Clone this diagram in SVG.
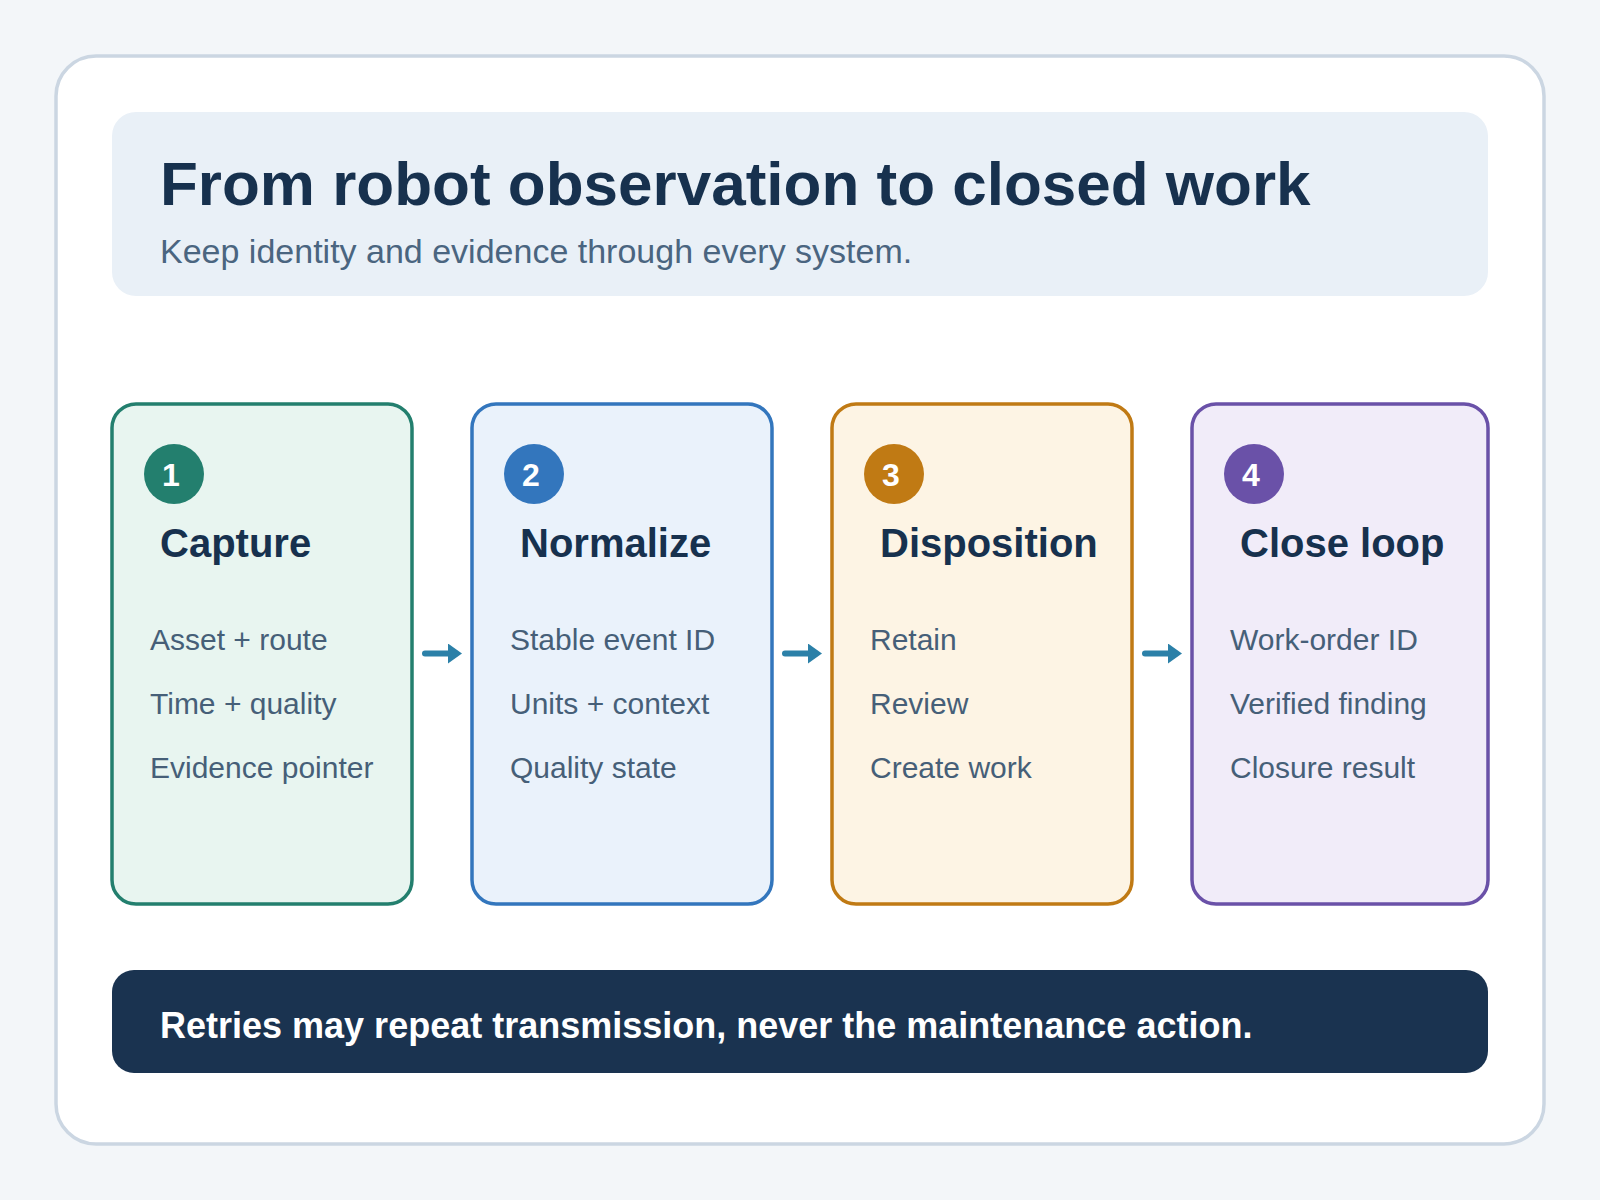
<svg xmlns="http://www.w3.org/2000/svg" width="1600" height="1200" viewBox="0 0 1600 1200">
  <defs>
    <style>
      .sans { font-family: "Liberation Sans", Arial, sans-serif; }
      .title { font-size: 62px; font-weight: bold; fill: #17314e; }
      .subtitle { font-size: 34px; fill: #4a6580; }
      .card { stroke-width: 3.5; }
      .num { font-size: 32px; font-weight: bold; fill: #ffffff; text-anchor: middle; }
      .ctitle { font-size: 40px; font-weight: bold; fill: #17314e; }
      .item { font-size: 30px; fill: #465f78; }
      .banner { font-size: 36px; font-weight: bold; fill: #ffffff; }
      .conn { stroke: #2b80a8; stroke-width: 6; stroke-linecap: round; fill: none; }
    </style>
    <marker id="arrow" viewBox="0 0 14 20" refX="2" refY="10" markerWidth="14" markerHeight="20" markerUnits="userSpaceOnUse" orient="auto">
      <path d="M0,0 L14,10 L0,20 z" fill="#2b80a8"/>
    </marker>
  </defs>

  <rect x="0" y="0" width="1600" height="1200" fill="#f3f6f9"/>
  <rect x="56" y="56" width="1488" height="1088" rx="40" ry="40" fill="#ffffff" stroke="#cbd6e2" stroke-width="3.5"/>

  <g id="header">
    <rect x="112" y="112" width="1376" height="184" rx="24" ry="24" fill="#e9f0f7"/>
    <text class="sans title" x="160" y="205">From robot observation to closed work</text>
    <text class="sans subtitle" x="160" y="263">Keep identity and evidence through every system.</text>
  </g>

  <g id="node-capture">
    <rect class="card" x="112" y="404" width="300" height="500" rx="24" ry="24" fill="#e8f5f0" stroke="#237f6e"/>
    <circle cx="174" cy="474" r="30" fill="#237f6e"/>
    <text class="sans num" x="171" y="486">1</text>
    <text class="sans ctitle" x="160" y="557">Capture</text>
    <text class="sans item" x="150" y="650">Asset + route</text>
    <text class="sans item" x="150" y="714">Time + quality</text>
    <text class="sans item" x="150" y="778">Evidence pointer</text>
  </g>

  <g id="node-normalize">
    <rect class="card" x="472" y="404" width="300" height="500" rx="24" ry="24" fill="#eaf2fb" stroke="#3376bd"/>
    <circle cx="534" cy="474" r="30" fill="#3376bd"/>
    <text class="sans num" x="531" y="486">2</text>
    <text class="sans ctitle" x="520" y="557">Normalize</text>
    <text class="sans item" x="510" y="650">Stable event ID</text>
    <text class="sans item" x="510" y="714">Units + context</text>
    <text class="sans item" x="510" y="778">Quality state</text>
  </g>

  <g id="node-disposition">
    <rect class="card" x="832" y="404" width="300" height="500" rx="24" ry="24" fill="#fdf4e4" stroke="#c07a14"/>
    <circle cx="894" cy="474" r="30" fill="#c07a14"/>
    <text class="sans num" x="891" y="486">3</text>
    <text class="sans ctitle" x="880" y="557">Disposition</text>
    <text class="sans item" x="870" y="650">Retain</text>
    <text class="sans item" x="870" y="714">Review</text>
    <text class="sans item" x="870" y="778">Create work</text>
  </g>

  <g id="node-close-loop">
    <rect class="card" x="1192" y="404" width="296" height="500" rx="24" ry="24" fill="#f1ecf9" stroke="#6a51a8"/>
    <circle cx="1254" cy="474" r="30" fill="#6a51a8"/>
    <text class="sans num" x="1251" y="486">4</text>
    <text class="sans ctitle" x="1240" y="557">Close loop</text>
    <text class="sans item" x="1230" y="650">Work-order ID</text>
    <text class="sans item" x="1230" y="714">Verified finding</text>
    <text class="sans item" x="1230" y="778">Closure result</text>
  </g>

  <g id="connectors">
    <line class="conn" x1="425" y1="653.5" x2="450" y2="653.5" marker-end="url(#arrow)"/>
    <line class="conn" x1="785" y1="653.5" x2="810" y2="653.5" marker-end="url(#arrow)"/>
    <line class="conn" x1="1145" y1="653.5" x2="1170" y2="653.5" marker-end="url(#arrow)"/>
  </g>

  <g id="footer">
    <rect x="112" y="970" width="1376" height="103" rx="22" ry="22" fill="#1a3350"/>
    <text class="sans banner" x="160" y="1038">Retries may repeat transmission, never the maintenance action.</text>
  </g>
</svg>
